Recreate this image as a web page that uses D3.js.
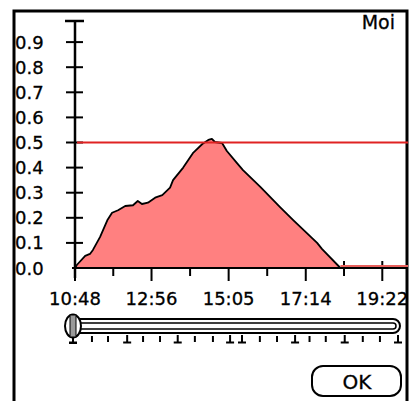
<!DOCTYPE html>
<html>
<head>
<meta charset="utf-8">
<script src="https://cdn.jsdelivr.net/npm/d3@7"></script>
<style>
  html, body { margin: 0; padding: 0; background: #fff; }
  svg { display: block; }
  text { font-family: "DejaVu Sans", sans-serif; fill: #000; stroke: #000; stroke-width: 0.3; }
</style>
</head>
<body>
<svg width="411" height="401"></svg>
<script>
// valeurs (heure, niveau)
const heures = ["10:48", "10:51", "11:05", "11:13", "11:18", "11:30", "11:42", "11:50", "12:00",
  "12:12", "12:25", "12:33", "12:40", "12:50", "13:02", "13:14", "13:27", "13:32", "13:49",
  "14:06", "14:21", "14:31", "14:37", "14:42", "14:54", "15:02", "15:19", "15:29", "15:58",
  "16:31", "16:53", "17:33", "17:41", "18:12"];
const niveaux = [0, 0.012, 0.048, 0.056, 0.072, 0.124, 0.19, 0.22, 0.23,
  0.247, 0.25, 0.267, 0.255, 0.26, 0.28, 0.29, 0.32, 0.35, 0.40,
  0.46, 0.494, 0.51, 0.514, 0.502, 0.498, 0.466, 0.418, 0.39, 0.323,
  0.243, 0.191, 0.10, 0.076, 0];

const xTickLabels = ["10:48", "12:56", "15:05", "17:14", "19:22"];
const yTickLabels = ["0.0", "0.1", "0.2", "0.3", "0.4", "0.5", "0.6", "0.7", "0.8", "0.9"];
const seuil = 0.5;
const titre = "Moi";
const heureDebut = "10:48";
const heureFin = "20:05";

// graduations du curseur (en pas)
const curseurMajeurs = [0, 3, 5.8, 8.7, 9.36, 12.3, 15.05, 18];
const curseurMineurs = [1.05, 1.94, 3.88, 4.82, 6.75, 7.75, 10.35, 11.3, 13.1, 14.0, 16.05, 17.0];

const enMinutes = s => {
    const [h, m] = s.split(":").map(Number);
    return h * 60 + m;
};

const svg = d3.select("svg");
const data = heures.map((h, i) => ({ t: enMinutes(h), v: niveaux[i] }));

const x = d3.scaleLinear()
    .domain([enMinutes(heureDebut), enMinutes(heureFin)])
    .range([75, 408]);
const y = d3.scaleLinear().domain([0, 1]).range([268, 17]);

// cadre
svg.append("path")
    .attr("d", "M14,401 V11 H407 V401")
    .attr("fill", "none")
    .attr("stroke", "#000")
    .attr("stroke-width", 3);

// graduations de l'axe x (derriere la surface)
const majTimes = xTickLabels.map(enMinutes);
const minTimes = majTimes.slice(0, -1).map((t, i) => (t + majTimes[i + 1]) / 2);

svg.append("g").selectAll("line")
    .data(majTimes)
    .join("line")
    .attr("x1", d => x(d)).attr("x2", d => x(d))
    .attr("y1", y(0) - 7).attr("y2", y(0) + 13)
    .attr("stroke", "#000").attr("stroke-width", 2);

svg.append("g").selectAll("line")
    .data(minTimes)
    .join("line")
    .attr("x1", d => x(d)).attr("x2", d => x(d))
    .attr("y1", y(0) - 7).attr("y2", y(0) + 8)
    .attr("stroke", "#000").attr("stroke-width", 2);

// surface
const area = d3.area()
    .x(d => x(d.t))
    .y0(y(0))
    .y1(d => y(d.v));

svg.append("path")
    .datum(data)
    .attr("d", area)
    .attr("fill", "#ff8080");

svg.append("path")
    .datum(data)
    .attr("d", d3.line().x(d => x(d.t)).y(d => y(d.v)))
    .attr("fill", "none")
    .attr("stroke", "#000")
    .attr("stroke-width", 1.8)
    .attr("stroke-linejoin", "round");

// niveau nul apres la fin
const dernier = data[data.length - 1];
svg.append("line")
    .attr("x1", x(dernier.t)).attr("x2", x.range()[1])
    .attr("y1", y(0) - 2).attr("y2", y(0) - 2)
    .attr("stroke", "#e8605c").attr("stroke-width", 2);

// axe x
svg.append("line")
    .attr("x1", 72).attr("x2", x.range()[1])
    .attr("y1", y(0)).attr("y2", y(0))
    .attr("stroke", "#000").attr("stroke-width", 2);

// axe y
const yTicks = yTickLabels.map(Number);
svg.append("line")
    .attr("x1", 75).attr("x2", 75)
    .attr("y1", y(1) + 3).attr("y2", y(0) + 10)
    .attr("stroke", "#000").attr("stroke-width", 2.5);
svg.append("line")
    .attr("x1", 65).attr("x2", 84)
    .attr("y1", y(1) + 4).attr("y2", y(1) + 4)
    .attr("stroke", "#000").attr("stroke-width", 2.5);

svg.append("g").selectAll("line")
    .data(yTicks.filter(d => d > 0))
    .join("line")
    .attr("x1", 66).attr("x2", 83)
    .attr("y1", d => y(d)).attr("y2", d => y(d))
    .attr("stroke", "#000").attr("stroke-width", 2);

svg.append("g").selectAll("text")
    .data(yTickLabels)
    .join("text")
    .attr("x", 15)
    .attr("y", d => y(+d) + 6.5)
    .attr("font-size", 18)
    .text(d => d);

// seuil
svg.append("line")
    .attr("x1", 77).attr("x2", x.range()[1])
    .attr("y1", y(seuil)).attr("y2", y(seuil))
    .attr("stroke", "#e02222").attr("stroke-width", 2);

// etiquettes x
svg.append("g").selectAll("text")
    .data(xTickLabels)
    .join("text")
    .attr("x", d => x(enMinutes(d)))
    .attr("y", 305)
    .attr("text-anchor", "middle")
    .attr("font-size", 18)
    .text(d => d);

// titre
svg.append("text")
    .attr("x", 395).attr("y", 29)
    .attr("text-anchor", "end")
    .attr("font-size", 19)
    .text(titre);

// curseur
const c = d3.scaleLinear().domain([0, 18]).range([73, 398]);
const g = svg.append("g");
g.append("rect")
    .attr("x", 66).attr("y", 319).attr("width", 334).attr("height", 14)
    .attr("rx", 7)
    .attr("fill", "#fff").attr("stroke", "#000").attr("stroke-width", 2);
g.append("rect")
    .attr("x", 70).attr("y", 323).attr("width", 326).attr("height", 6)
    .attr("rx", 3)
    .attr("fill", "#fff").attr("stroke", "#000").attr("stroke-width", 1.5);

g.selectAll(".mineur")
    .data(curseurMineurs)
    .join("line")
    .attr("x1", d => c(d)).attr("x2", d => c(d))
    .attr("y1", 336).attr("y2", 342)
    .attr("stroke", "#000").attr("stroke-width", 2);

g.selectAll(".majeur")
    .data(curseurMajeurs)
    .join("path")
    .attr("d", d => `M${c(d)},335 V342 M${c(d) - 4},342.5 H${c(d) + 4}`)
    .attr("fill", "none")
    .attr("stroke", "#000").attr("stroke-width", 2);

// poignee
const px = c(0);
g.append("ellipse")
    .attr("cx", px).attr("cy", 326).attr("rx", 8).attr("ry", 11.5)
    .attr("fill", "#fff").attr("stroke", "#000").attr("stroke-width", 2);
g.append("rect")
    .attr("x", px - 3).attr("y", 315).attr("width", 6).attr("height", 22)
    .attr("fill", "#9a9a9a").attr("stroke", "#000").attr("stroke-width", 1);
g.append("path")
    .attr("d", `M${px},337 V343 M${px - 4},343 H${px + 4}`)
    .attr("stroke", "#000").attr("stroke-width", 2);

// bouton OK
svg.append("rect")
    .attr("x", 312).attr("y", 366).attr("width", 89).attr("height", 30)
    .attr("rx", 11)
    .attr("fill", "#fff").attr("stroke", "#000").attr("stroke-width", 2);
svg.append("text")
    .attr("x", 357).attr("y", 389)
    .attr("text-anchor", "middle")
    .attr("font-size", 20)
    .text("OK");
</script>
</body>
</html>
